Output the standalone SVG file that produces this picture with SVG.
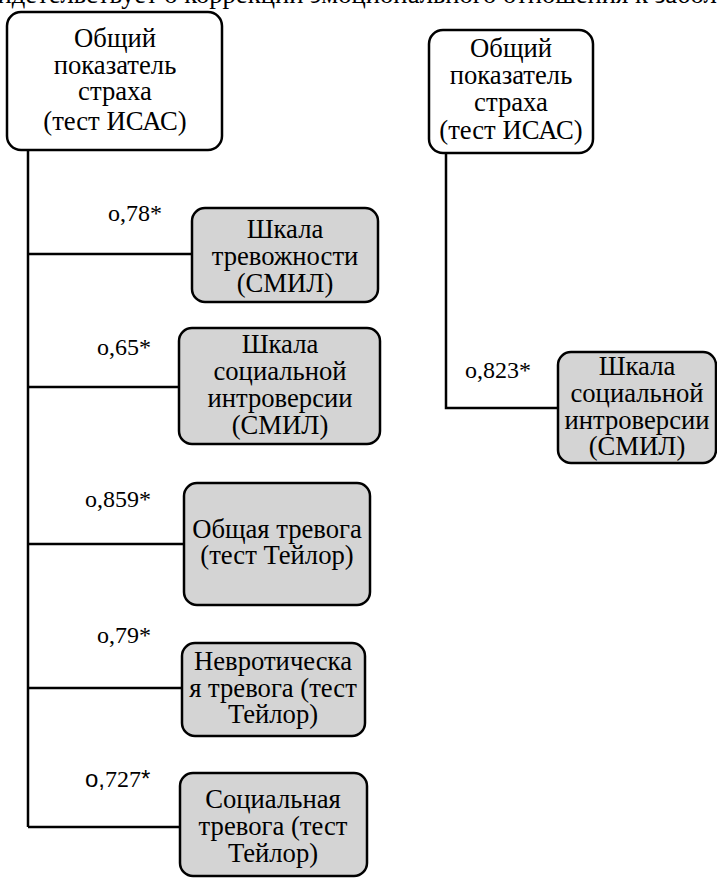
<svg xmlns="http://www.w3.org/2000/svg" width="717" height="878" viewBox="0 0 717 878">
<style>
text{font-family:'Liberation Serif','Times New Roman',serif;font-size:26.67px;fill:#000}
.c{text-anchor:middle}
.lb{font-size:24px}
.w{fill:#fff;stroke:#000;stroke-width:2.5}
.g{fill:#d4d4d4;stroke:#000;stroke-width:2.5}
.ln{fill:none;stroke:#000;stroke-width:2.5}
</style>
<rect width="717" height="878" fill="#fff"/>
<text x="-27" y="3" font-size="26">свидетельствует о коррекции эмоционального отношения к заболеванию</text>
<g id="connectors">
<path class="ln" d="M28 150V827M28 254H192M28 387H179M28 544H184M28 688H182M28 827H180"/>
<path class="ln" d="M446 153V408H558"/>
</g>
<g id="labels">
<text class="lb" x="108" y="221">о,78*</text>
<text class="lb" x="97" y="355">о,65*</text>
<text class="lb" x="85" y="507">о,859*</text>
<text class="lb" x="97" y="643">о,79*</text>
<text class="lb" x="85" y="787"><tspan font-family="Liberation Sans">о,</tspan>727<tspan font-family="Liberation Sans">*</tspan></text>
<text class="lb" x="465" y="378">о,823*</text>
</g>
<g id="n_main_left">
<rect class="w" x="7" y="12" width="215" height="138" rx="14"/>
<text class="c" x="115" y="47">Общий</text>
<text class="c" x="115" y="74">показатель</text>
<text class="c" x="115" y="100">страха</text>
<text class="c" x="115" y="130">(тест ИСАС)</text>
</g>
<g id="n_main_right">
<rect class="w" x="429" y="30" width="164" height="123" rx="14"/>
<text class="c" x="511" y="57">Общий</text>
<text class="c" x="511" y="84">показатель</text>
<text class="c" x="511" y="111">страха</text>
<text class="c" x="511" y="139">(тест ИСАС)</text>
</g>
<g id="n1">
<rect class="g" x="192" y="208" width="186" height="94" rx="13"/>
<text class="c" x="285" y="238">Шкала</text>
<text class="c" x="285" y="265">тревожности</text>
<text class="c" x="285" y="292">(СМИЛ)</text>
</g>
<g id="n2">
<rect class="g" x="179" y="328" width="201" height="116" rx="13"/>
<text class="c" x="280" y="353">Шкала</text>
<text class="c" x="280" y="380">социальной</text>
<text class="c" x="280" y="407">интроверсии</text>
<text class="c" x="280" y="434">(СМИЛ)</text>
</g>
<g id="n3">
<rect class="g" x="184" y="483" width="186" height="122" rx="13"/>
<text class="c" x="277" y="538">Общая тревога</text>
<text class="c" x="277" y="564">(тест Тейлор)</text>
</g>
<g id="n4">
<rect class="g" x="182" y="643" width="183" height="93" rx="13"/>
<text class="c" x="273" y="670">Невротическа</text>
<text class="c" x="273" y="697">я тревога (тест</text>
<text class="c" x="273" y="723">Тейлор)</text>
</g>
<g id="n5">
<rect class="g" x="180" y="773" width="187" height="103" rx="13"/>
<text class="c" x="273" y="808">Социальная</text>
<text class="c" x="273" y="835">тревога (тест</text>
<text class="c" x="273" y="862">Тейлор)</text>
</g>
<g id="n_right">
<rect class="g" x="558" y="352" width="158" height="111" rx="13"/>
<text class="c" x="637" y="375">Шкала</text>
<text class="c" x="637" y="402">социальной</text>
<text class="c" x="637" y="429">интроверсии</text>
<text class="c" x="637" y="455">(СМИЛ)</text>
</g>
</svg>
